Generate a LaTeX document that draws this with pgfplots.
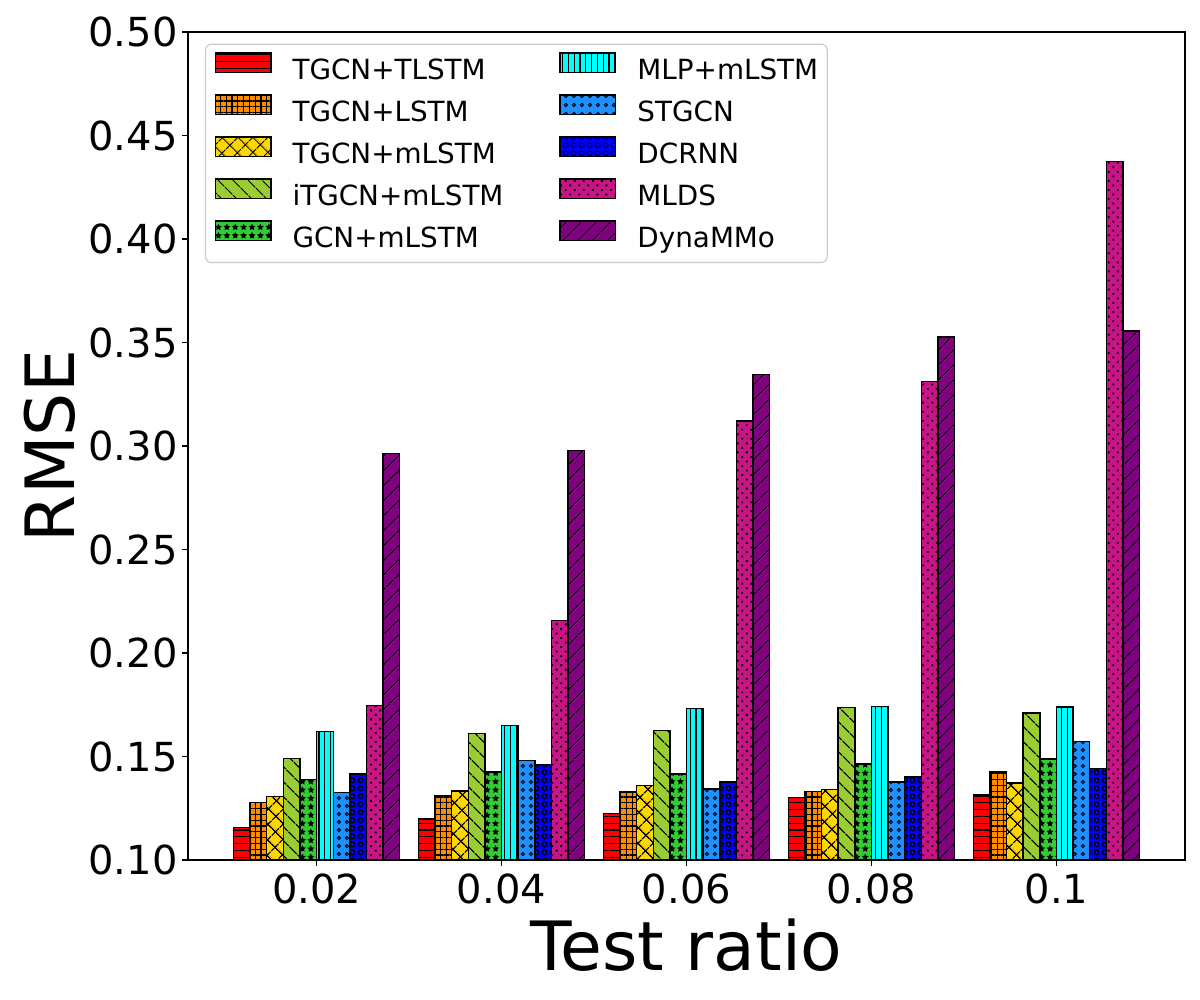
\documentclass[border=0pt]{standalone}
\usepackage{fontspec}
\setmainfont{DejaVu Sans}
\usepackage{pgfplots}
\pgfplotsset{compat=1.18}
\usepackage{pgfplotstable}
\usetikzlibrary{patterns,patterns.meta}

\definecolor{cred}{HTML}{FF0000}
\definecolor{corange}{HTML}{FF8C00}
\definecolor{cgold}{HTML}{FFD700}
\definecolor{cyg}{HTML}{9ACD32}
\definecolor{clg}{HTML}{32CD32}
\definecolor{ccyan}{HTML}{00FFFF}
\definecolor{cdb}{HTML}{1E90FF}
\definecolor{cblue}{HTML}{0000FF}
\definecolor{cmvr}{HTML}{C71585}
\definecolor{cpurple}{HTML}{800080}

\tikzdeclarepattern{
  name=smallrings,
  type=uncolored,
  bottom left={(0pt,0pt)},
  top right={(4.2pt,4.2pt)},
  tile size={(4.2pt,4.2pt)},
  code={
    \draw[line width=0.5pt] (2.1pt,2.1pt) circle[radius=0.85pt];
  }
}
\tikzdeclarepattern{
  name=bigrings,
  type=uncolored,
  bottom left={(0pt,0pt)},
  top right={(3.8pt,3.8pt)},
  tile size={(3.8pt,3.8pt)},
  code={
    \draw[line width=0.55pt] (1.9pt,1.9pt) circle[radius=1.25pt];
  }
}

\pgfplotstableread{
x  tl     ls     ml     itg    gcn    mlp    stg    dcr    mlds   dyn
0  0.1158 0.1279 0.1308 0.1491 0.1390 0.1622 0.1327 0.1415 0.1747 0.2965
1  0.1198 0.1312 0.1333 0.1612 0.1425 0.1651 0.1481 0.1461 0.2158 0.2979
2  0.1224 0.1329 0.1361 0.1627 0.1415 0.1731 0.1343 0.1376 0.3121 0.3346
3  0.1303 0.1331 0.1341 0.1737 0.1463 0.1742 0.1376 0.1400 0.3313 0.3527
4  0.1316 0.1425 0.1372 0.1711 0.1487 0.1740 0.1571 0.1443 0.4374 0.3555
}\data

\pgfplotsset{
  mybar/.style={ybar, bar width=0.09, bar shift=#1, draw=black, line width=0.7pt,
    legend image code/.code={\draw[##1, sharp corners] (0pt,0.2pt) rectangle (27.8pt,9.9pt);}},
}

\begin{document}
\begin{tikzpicture}
\path[use as bounding box] (-94pt,-70pt) rectangle (506pt,430pt);
\begin{axis}[
  at={(0pt,0pt)}, anchor=south west,
  scale only axis, width=498.5pt, height=414pt,
  xmin=-0.695, xmax=4.695, ymin=0.1, ymax=0.5,
  xtick={0,1,2,3,4}, xticklabels={0.02,0.04,0.06,0.08,0.1},
  ytick={0.10,0.15,0.20,0.25,0.30,0.35,0.40,0.45,0.50},
  scaled y ticks=false,
  y tick label style={/pgf/number format/fixed, /pgf/number format/fixed zerofill, /pgf/number format/precision=2},
  /pgf/number format/assume math mode=true,
  tick label style={font=\fontsize{20pt}{24pt}\selectfont},
  xticklabel style={inner sep=0pt, anchor=north, yshift=-3.7pt},
  yticklabel style={inner sep=0pt, anchor=east, xshift=-2.2pt},
  tick pos=left, tick align=outside, major tick length=2.8pt,
  every tick/.style={black, line width=0.55pt},
  axis line style={line width=0.55pt},
  xlabel={Test ratio},
  xlabel style={at={(axis description cs:0.5,-0.134)}, anchor=base, inner sep=0pt, font=\fontsize{34pt}{40pt}\selectfont},
  ylabel={RMSE},
  ylabel style={at={(axis description cs:-0.1143,0.5)}, anchor=base, inner sep=0pt, font=\fontsize{34pt}{40pt}\selectfont},
  legend columns=5, transpose legend,
  legend cell align=left,
  legend style={at={(0.017,0.986)}, anchor=north west,
    font=\fontsize{13.9pt}{16pt}\selectfont,
    draw=black!20, line width=0.6pt, rounded corners=3pt,
    inner xsep=4.5pt, inner ysep=4pt,
    row sep=3.8pt,
    nodes={inner sep=0pt, text height=10.4pt, text depth=3.5pt},
    /tikz/every odd column/.append style={column sep=10.5pt},
    /tikz/every even column/.append style={column sep=28pt},
  },
]
\addplot[mybar=-0.405, fill=cred, postaction={pattern={Lines[angle=0,distance=3.4pt,line width=0.6pt]}}] table[x=x,y=tl]{\data};
\addlegendentry{TGCN+TLSTM}
\addplot[mybar=-0.315, fill=corange, postaction={pattern={Hatch[angle=0,distance=2.9pt,line width=0.6pt]}}] table[x=x,y=ls]{\data};
\addlegendentry{TGCN+LSTM}
\addplot[mybar=-0.225, fill=cgold, postaction={pattern={Hatch[angle=45,distance=5.4pt,line width=0.6pt]}}] table[x=x,y=ml]{\data};
\addlegendentry{TGCN+mLSTM}
\addplot[mybar=-0.135, fill=cyg, postaction={pattern={Lines[angle=-45,distance=5.4pt,line width=0.6pt]}}] table[x=x,y=itg]{\data};
\addlegendentry{iTGCN+mLSTM}
\addplot[mybar=-0.045, fill=clg, postaction={pattern={Stars[distance=4.2pt,radius=1.8pt,points=5]}}] table[x=x,y=gcn]{\data};
\addlegendentry{GCN+mLSTM}
\addplot[mybar=0.045, fill=ccyan, postaction={pattern={Lines[angle=90,distance=2.9pt,line width=0.6pt]}}] table[x=x,y=mlp]{\data};
\addlegendentry{MLP+mLSTM}
\addplot[mybar=0.135, fill=cdb, postaction={pattern=smallrings}] table[x=x,y=stg]{\data};
\addlegendentry{STGCN}
\addplot[mybar=0.225, fill=cblue, postaction={pattern=bigrings}] table[x=x,y=dcr]{\data};
\addlegendentry{DCRNN}
\addplot[mybar=0.315, fill=cmvr, postaction={pattern={Dots[angle=45,distance=3.2pt,radius=0.65pt]}}] table[x=x,y=mlds]{\data};
\addlegendentry{MLDS}
\addplot[mybar=0.405, fill=cpurple, postaction={pattern={Lines[angle=45,distance=5.4pt,line width=0.6pt]}}] table[x=x,y=dyn]{\data};
\addlegendentry{DynaMMo}
\end{axis}
\end{tikzpicture}
\end{document}
